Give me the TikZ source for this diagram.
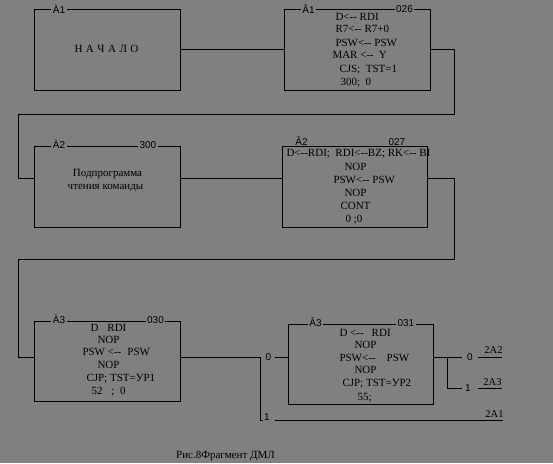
\documentclass[tikz,border=0pt]{standalone}
\usepackage{fontspec}
\setmainfont{Liberation Serif}
\newfontfamily\lsans{Liberation Sans}
\definecolor{bg}{HTML}{808080}
\begin{document}
\begin{tikzpicture}[x=1pt,y=-1pt,line width=1pt,
  box/.style={draw,inner sep=0pt,outer sep=0pt},
  tag/.style={font=\lsans\fontsize{10}{12}\selectfont,fill=bg,inner xsep=1.5pt,inner ysep=0.6pt,anchor=base},
  lab/.style={font=\lsans\fontsize{10}{12}\selectfont,inner sep=0pt,anchor=base},
  ln/.style={font=\fontsize{11}{13}\selectfont,inner sep=0pt,anchor=base west},
  ctr/.style={font=\fontsize{11}{13}\selectfont,inner sep=0pt,anchor=base},
  outlbl/.style={font=\fontsize{10.5}{12}\selectfont,inner sep=0pt,anchor=base east}]
\fill[bg] (0,0) rectangle (553,463);
\useasboundingbox (0,0) rectangle (553,463);

% boxes
\node[box,minimum width=146pt,minimum height=81pt] (b1) at (107,49.5) {};
\node[box,minimum width=146pt,minimum height=81pt] (b2) at (357,49.5) {};
\node[box,minimum width=146pt,minimum height=81pt] (b3) at (107,186.5) {};
\node[box,minimum width=145pt,minimum height=81pt] (b4) at (354.5,186.5) {};
\node[box,minimum width=146pt,minimum height=80pt] (b5) at (107,361) {};
\node[box,minimum width=145pt,minimum height=80pt] (b6) at (360.5,364) {};

% connectors
\coordinate (c1) at (454,114);
\coordinate (c2) at (18,114);
\coordinate (c3) at (454,259);
\coordinate (c4) at (18,259);
\draw (b1.east) -- (b2.west);
\draw (b2.east) -| (c1) -- (c2) |- ([yshift=8.5pt]b3.west);
\draw ([yshift=8.5pt]b3.east) -- ([yshift=8.5pt]b4.west);
\draw ([yshift=8.5pt]b4.east) -| (c3) -- (c4) |- ([yshift=4pt]b5.west);

\coordinate (j1) at (260,357);
\coordinate (j2) at (263,420);
\coordinate (e1) at (275,420);
\coordinate (e2) at (503,420);
\coordinate (f1) at (275,357);
\draw ([yshift=4pt]b5.east) -- (j1) |- (j2);
\node[lab] (z0) at (268.5,360.5) {0};
\node[lab] (z1) at (267,420) {1};
\draw (f1) -- ([yshift=7pt]b6.west);
\draw (e1) -- (e2);

\coordinate (j3) at (447,357);
\coordinate (g1) at (462,357);
\coordinate (g2) at (462,388);
\draw ([yshift=7pt]b6.east) -- (g1);
\draw (j3) |- (g2);
\node[lab] (r0) at (470,360.5) {0};
\node[lab] (r1) at (468,391) {1};
\draw (478,357) -- (502,357);
\draw (478,388) -- (502,388);
\node[outlbl] (o2) at (503,353) {2A2};
\node[outlbl] (o3) at (502,385.5) {2A3};
\node[outlbl] (o1) at (504,417) {2A1};

% box tags
\node[tag] (a1) at (59,13.5) {À1};
\node[tag] (a2) at (308.5,13) {Â1};
\node[tag] (a3) at (404.5,12.5) {026};
\node[tag,anchor=base west] (a4) at (137.5,148) {300\hspace{6pt}};
\node[tag] (a5) at (59,148) {À2};
\node[tag] (a6) at (301.5,145.5) {Â2};
\node[tag,anchor=base west] (a7) at (386.5,145.5) {027\hspace{5pt}};
\node[tag] (a8) at (59,323) {À3};
\node[tag] (a9) at (155.5,323) {030};
\node[tag] (a10) at (315.5,326.5) {Â3};
\node[tag,anchor=base west] (a11) at (395.5,326.5) {031\hspace{3pt}};

% box 1
\node[font=\fontsize{11}{13}\selectfont,inner sep=0pt,anchor=base] (t1) at (106.5,52.3)
  {Н\kern3.5ptА\kern3.5ptЧ\kern3.5ptА\kern3.5ptЛ\kern3.5ptО};

% box 2
\node[ln] (t21) at (335,20) {D<-{}- RDI};
\node[ln] (t22) at (335,32.7) {R7<-{}- R7+0};
\node[ln] (t23) at (335,46) {PSW<-{}- PSW};
\node[ln] (t24) at (332,58.3) {MAR <-{}-\hspace{5pt}Y};
\node[ln] (t25) at (339,72.3) {CJS;\ \ TST=1};
\node[ln] (t26) at (340,85) {300;\ \ 0};

% box 3
\node[ctr] (t31) at (107.5,176.7) {Подпрограмма};
\node[ctr] (t32) at (105.5,189.5) {чтения команды};

% box 4
\node[ln] (t41) at (286,156.7) {D<-{}-RDI;\ \ RDI<-{}-BZ; RK<-{}- BI};
\node[ln] (t42) at (344,170) {NOP};
\node[ln] (t43) at (333,183) {PSW<-{}- PSW};
\node[ln] (t44) at (344,196) {NOP};
\node[ln] (t45) at (340,209) {CONT};
\node[ln] (t46) at (345,222.3) {0 ;0};

% box 5
\node[ln] (t51) at (90,331) {D\hspace{9pt}RDI};
\node[ln] (t52) at (97,343.3) {NOP};
\node[ln] (t53) at (82,355.7) {PSW <-{}-\hspace{6pt}PSW};
\node[ln] (t54) at (97,368.3) {NOP};
\node[ln] (t55) at (86,381.7) {CJP; TST=УР1};
\node[ln] (t56) at (91,394) {52\hspace{9pt};\ \ 0};

% box 6
\node[ln] (t61) at (339,336) {D <-{}-\hspace{8pt}RDI};
\node[ln] (t62) at (354,348.3) {NOP};
\node[ln] (t63) at (339,361) {PSW<-{}-\hspace{11pt}PSW};
\node[ln] (t64) at (354,373.3) {NOP};
\node[ln] (t65) at (342,386.7) {CJP; TST=УР2};
\node[ln] (t66) at (357,400) {55;};

% caption
\node[font=\fontsize{11}{12}\selectfont,inner sep=0pt,anchor=base] (cap) at (225.5,458) {Рис.8Фрагмент ДМЛ};
\end{tikzpicture}
\end{document}
